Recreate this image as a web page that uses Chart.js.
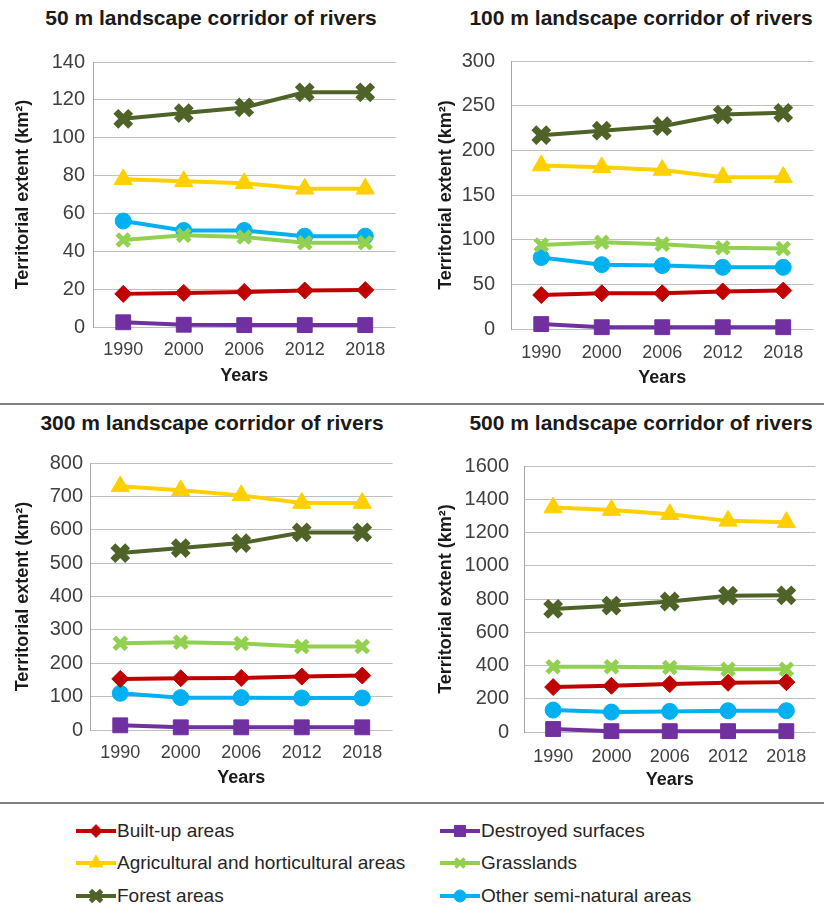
<!DOCTYPE html>
<html>
<head>
<meta charset="utf-8">
<script src="https://cdn.jsdelivr.net/npm/chart.js@4.4.1/dist/chart.umd.min.js"></script>
<style>
  html, body { margin: 0; padding: 0; background: #fff; overflow: hidden; }
  #page { position: relative; width: 824px; height: 906px; overflow: hidden; font-family: "Liberation Sans", Arial, sans-serif; }
  canvas { position: absolute; }
  .title { position: absolute; white-space: nowrap; transform: translate(-50%, -50%); font-weight: bold; font-size: 21px; color: #1a1a1a; }
  .sep { position: absolute; left: 0; width: 824px; height: 2px; background: #808080; }
  .item { position: absolute; display: flex; align-items: center; transform: translateY(-50%); white-space: nowrap;
          font-family: "Liberation Sans", Arial, sans-serif; font-size: 19px; color: #262626; }
  .item canvas { position: static; margin-right: 1px; }
</style>
</head>
<body>
<div id="page">
  <div class="title" style="left:211px; top:18px">50 m landscape corridor of rivers</div>
  <div class="title" style="left:641px; top:18px">100 m landscape corridor of rivers</div>
  <div class="title" style="left:212px; top:423px">300 m landscape corridor of rivers</div>
  <div class="title" style="left:641px; top:423px">500 m landscape corridor of rivers</div>
  <canvas id="c0"></canvas>
  <canvas id="c1"></canvas>
  <canvas id="c2"></canvas>
  <canvas id="c3"></canvas>
  <div class="sep" style="top:403px"></div>
  <div class="sep" style="top:802px"></div>
  <div id="legend"></div>
</div>
<script>
const years = ["1990", "2000", "2006", "2012", "2018"];
const seriesNames = ["Built-up areas", "Destroyed surfaces", "Agricultural and horticultural areas",
  "Grasslands", "Forest areas", "Other semi-natural areas"];

// 50 m corridor
const builtUp50 = [17.5, 18, 18.5, 19.3, 19.5];
const destroyed50 = [2.5, 1.2, 1, 1, 1];
const agri50 = [78, 77, 76, 73, 73];
const grass50 = [46, 48.5, 47.5, 44.5, 44.5];
const forest50 = [110, 113, 116, 124, 124];
const other50 = [56, 51, 51, 48, 48];

// 100 m corridor
const builtUp100 = [38, 40, 40, 42, 43];
const destroyed100 = [5.5, 2, 2, 2, 2];
const agri100 = [183, 181, 178, 170, 170];
const grass100 = [94, 97, 95, 91, 90];
const forest100 = [217, 222, 227, 240, 242];
const other100 = [80, 72, 71, 69, 69];

// 300 m corridor
const builtUp300 = [153, 155, 156, 160, 163];
const destroyed300 = [14, 8, 8, 8, 8];
const agri300 = [730, 718, 703, 680, 680];
const grass300 = [260, 263, 259, 250, 250];
const forest300 = [530, 545, 560, 592, 592];
const other300 = [110, 97, 97, 96, 96];

// 500 m corridor
const builtUp500 = [270, 278, 288, 296, 300];
const destroyed500 = [18, 5, 5, 5, 5];
const agri500 = [1350, 1335, 1310, 1270, 1262];
const grass500 = [392, 392, 388, 378, 378];
const forest500 = [740, 760, 785, 820, 822];
const other500 = [132, 120, 124, 128, 128];

const yMax = [140, 300, 800, 1600];
const yStep = [20, 50, 100, 200];

const panelData = [
  [builtUp50, destroyed50, agri50, grass50, forest50, other50],
  [builtUp100, destroyed100, agri100, grass100, forest100, other100],
  [builtUp300, destroyed300, agri300, grass300, forest300, other300],
  [builtUp500, destroyed500, agri500, grass500, forest500, other500],
];

// series look
const seriesColors = ["#C00000", "#7030A0", "#FFD000", "#92D050", "#4F6228", "#00B0F0"];
const seriesMarkers = ["rectRot", "rect", "triangle", "crossRot", "crossRot", "circle"];
const markerRadius = [8.5, 10.5, 10.5, 8.5, 10.5, 8];
const markerBorder = [1, 1, 1, 5, 7, 1];

// where each panel sits on the page
const panels = [
  { left: 0, top: 0, w: 413, h: 400, yw: 93, tickPad: 8, yTitlePad: 12, plotTop: 62, plotBottom: 327, xTickPad: 12, xTitlePad: 13 },
  { left: 414, top: 0, w: 417, h: 400, yw: 97, tickPad: 16, yTitlePad: 21, plotTop: 61, plotBottom: 329, xTickPad: 13, xTitlePad: 11 },
  { left: 0, top: 405, w: 410, h: 395, yw: 90, tickPad: 7, yTitlePad: 12, plotTop: 58, plotBottom: 325, xTickPad: 12, xTitlePad: 11 },
  { left: 414, top: 405, w: 419, h: 395, yw: 110, tickPad: 15, yTitlePad: 21, plotTop: 61, plotBottom: 327, xTickPad: 14, xTitlePad: 9 },
];

Chart.defaults.font.family = '"Liberation Sans", Arial, sans-serif';

function makeChart(i) {
  const p = panels[i];
  const canvas = document.getElementById("c" + i);
  canvas.width = p.w;
  canvas.height = p.h;
  canvas.style.left = p.left + "px";
  canvas.style.top = p.top + "px";

  const datasets = seriesNames.map((name, k) => ({
    label: name,
    data: panelData[i][k],
    borderColor: seriesColors[k],
    backgroundColor: seriesColors[k],
    borderWidth: 4,
    pointStyle: seriesMarkers[k],
    pointRadius: markerRadius[k],
    pointBorderWidth: markerBorder[k],
    tension: 0,
    clip: false,
  }));

  return new Chart(canvas, {
    type: "line",
    data: { labels: years, datasets: datasets },
    options: {
      responsive: false,
      animation: false,
      layout: { padding: { top: p.plotTop, left: 0, right: 0, bottom: 0 } },
      plugins: { legend: { display: false }, tooltip: { enabled: false } },
      scales: {
        x: {
          offset: true,
          grid: { display: false, drawTicks: false },
          border: { display: false },
          ticks: { padding: p.xTickPad, color: "#404040", font: { size: 18 } },
          title: {
            display: true,
            text: "Years",
            color: "#1a1a1a",
            font: { size: 18, weight: "bold" },
            padding: { top: 0, bottom: p.xTitlePad },
          },
          afterFit: (s) => { s.height = p.h - p.plotBottom; },
        },
        y: {
          min: 0,
          max: yMax[i],
          ticks: {
            stepSize: yStep[i],
            padding: p.tickPad,
            color: "#404040",
            font: { size: 20 },
            callback: (v) => String(v),
          },
          grid: { color: "#BFBFBF", drawTicks: false },
          border: { display: true, color: "#A6A6A6" },
          title: {
            display: true,
            text: "Territorial extent (km²)",
            color: "#1a1a1a",
            font: { size: 18, weight: "bold" },
            padding: { top: p.yTitlePad, bottom: 0 },
          },
          afterFit: (s) => { s.width = p.yw; },
        },
      },
    },
  });
}

for (let i = 0; i < 4; i++) makeChart(i);

// shared legend: two columns, three rows
const legendCols = [76, 440];
const legendRows = [831, 863, 896];
const legend = document.getElementById("legend");
seriesNames.forEach((name, k) => {
  const item = document.createElement("div");
  item.className = "item";
  item.style.left = legendCols[k % 2] + "px";
  item.style.top = legendRows[Math.floor(k / 2)] + "px";
  const sym = document.createElement("canvas");
  sym.width = 40;
  sym.height = 22;
  const ctx = sym.getContext("2d");
  ctx.strokeStyle = seriesColors[k];
  ctx.fillStyle = seriesColors[k];
  ctx.lineWidth = 4;
  ctx.beginPath();
  ctx.moveTo(0, 11);
  ctx.lineTo(40, 11);
  ctx.stroke();
  if (Chart.helpers && Chart.helpers.drawPoint) {
    ctx.lineWidth = Math.max(1, markerBorder[k] * 0.7);
    Chart.helpers.drawPoint(ctx, {
      pointStyle: seriesMarkers[k],
      radius: markerRadius[k] * 0.75,
      rotation: 0,
      borderWidth: Math.max(1, markerBorder[k] * 0.7),
    }, 20, 11);
  }
  const label = document.createElement("span");
  label.textContent = name;
  item.appendChild(sym);
  item.appendChild(label);
  legend.appendChild(item);
});
</script>
</body>
</html>
